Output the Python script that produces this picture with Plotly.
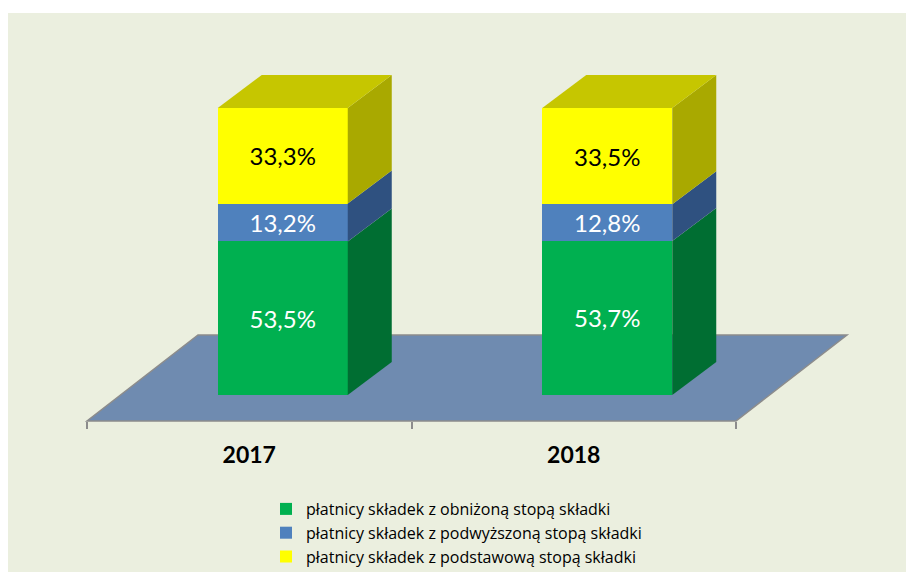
import plotly.graph_objects as go

years = ["2017", "2018"]
series_names = [
    "płatnicy składek z obniżoną stopą składki",
    "płatnicy składek z podwyższoną stopą składki",
    "płatnicy składek z podstawową stopą składki",
]
reduced = [53.5, 53.7]
increased = [13.2, 12.8]
basic = [33.3, 33.5]
series_values = [reduced, increased, basic]
front_colors = ["#00b050", "#4f81bd", "#ffff00"]
side_colors = ["#006e32", "#2f5180", "#a9a900"]
top_color = "#c6c600"
text_colors = ["white", "white", "black"]

# The page keeps its default 8px body margin, so the figure is drawn 8px in from the window edge.
PAGE = 8
W, H = 914 - PAGE, 572 - PAGE
SLOT_PX = 324.5          # px per category slot
PCT_PX = 2.87            # px per percentage point
X0_PX, Y0_PX = 87 - PAGE, 395 - PAGE   # pixel of x=0 and y=0
BAR_OFFSET = 33.5 / SLOT_PX            # bars sit shifted towards the floor centre
BAR_W = 130 / SLOT_PX
DX, DY = 44 / SLOT_PX, 33 / PCT_PX
FLOOR_DX, FLOOR_FRONT, FLOOR_BACK = 111 / SLOT_PX, -26 / PCT_PX, 60 / PCT_PX

centers = [i + 0.5 + BAR_OFFSET for i in range(len(years))]
fig = go.Figure()

for name, vals, col, tc in zip(series_names, series_values, front_colors, text_colors):
    fig.add_trace(go.Bar(
        x=centers, y=vals, width=BAR_W, name=name, legendgroup=name,
        marker=dict(color=col, line=dict(width=0)),
        text=[f"{v:.1f}%".replace(".", ",") for v in vals],
        textposition="inside", insidetextanchor="middle", textangle=0,
        textfont=dict(color=tc, size=24, family="Lato"),
        hoverinfo="skip",
    ))

# 3-D side and top faces derived from the stacked values
for i, c in enumerate(centers):
    right = c + BAR_W / 2
    base = 0
    for vals, col in zip(series_values, side_colors):
        top = base + vals[i]
        fig.add_trace(go.Scatter(
            x=[right, right + DX, right + DX, right, right],
            y=[base, base + DY, top + DY, top, base],
            fill="toself", fillcolor=col, mode="lines", line=dict(width=0),
            showlegend=False, hoverinfo="skip",
        ))
        base = top
    left = c - BAR_W / 2
    fig.add_trace(go.Scatter(
        x=[left, right, right + DX, left + DX, left],
        y=[base, base, base + DY, base + DY, base],
        fill="toself", fillcolor=top_color, mode="lines", line=dict(width=0),
        showlegend=False, hoverinfo="skip",
    ))

n = len(years)
shapes = [
    dict(type="rect", xref="paper", yref="paper", x0=0, x1=1, y0=0, y1=1 - 5 / H,
         fillcolor="#ebefdf", line=dict(width=0), layer="below"),
    dict(type="path", layer="below", fillcolor="#6f8bb0", line=dict(color="#8c8c8c", width=1.5),
         path=f"M 0 {FLOOR_FRONT} L {n} {FLOOR_FRONT} L {n + FLOOR_DX} {FLOOR_BACK} L {FLOOR_DX} {FLOOR_BACK} Z"),
]

fig.update_layout(
    width=W, height=H, margin=dict(l=0, r=0, t=0, b=0, autoexpand=False),
    paper_bgcolor="white", plot_bgcolor="rgba(0,0,0,0)",
    barmode="stack", shapes=shapes,
    font=dict(family="Lato", color="black"),
    xaxis=dict(
        range=[-X0_PX / SLOT_PX, (W - X0_PX) / SLOT_PX],
        domain=[0, 1], anchor="free", position=(H - (421 - PAGE)) / H,
        showgrid=False, zeroline=False, showline=False,
        tickmode="array", tickvals=[i + 0.5 for i in range(n)], ticktext=years,
        ticks="outside", ticklen=13, tickcolor="rgba(0,0,0,0)",
        tickfont=dict(size=23, family="Lato", color="black", weight="bold"),
        minor=dict(tickmode="array", tickvals=list(range(n + 1)), ticks="outside",
                   ticklen=7, tickwidth=1.5, tickcolor="#8c8c8c", showgrid=False),
    ),
    yaxis=dict(range=[(Y0_PX - H) / PCT_PX, Y0_PX / PCT_PX], domain=[0, 1],
               visible=False, fixedrange=True),
    legend=dict(x=258 / W, y=1 - 484 / H, xanchor="left", yanchor="top",
                traceorder="grouped", tracegroupgap=0, itemwidth=30,
                bgcolor="rgba(0,0,0,0)", font=dict(size=16, family="Open Sans", color="black")),
)

fig.write_html("out.html")
